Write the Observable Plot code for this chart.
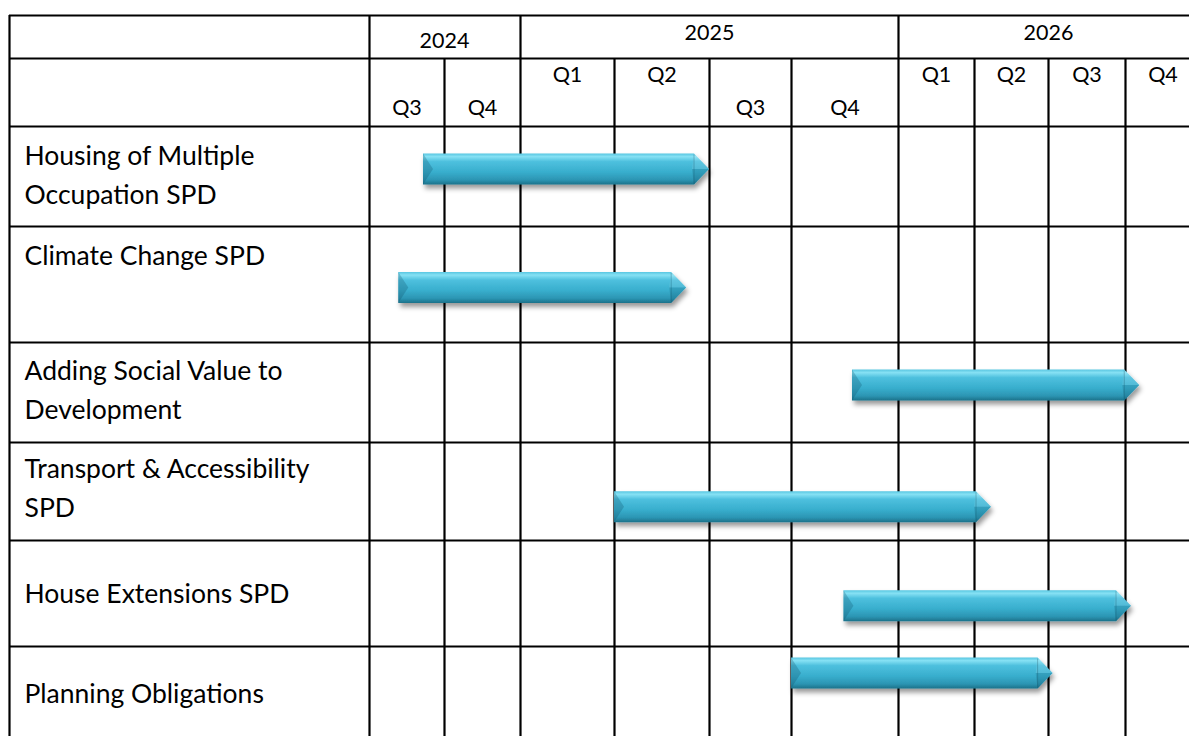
<!DOCTYPE html>
<html><head><meta charset="utf-8">
<script src="https://cdn.jsdelivr.net/npm/d3@7"></script>
<script src="https://cdn.jsdelivr.net/npm/@observablehq/plot@0.6"></script>
<style>
html,body{margin:0;padding:0;background:#fff;}
#chart svg{display:block;}
</style></head><body><div id="chart"></div>
<script>
// ---------- DATA ----------
const tasks = [
  "Housing of Multiple\nOccupation SPD",
  "Climate Change SPD",
  "Adding Social Value to\nDevelopment",
  "Transport & Accessibility\nSPD",
  "House Extensions SPD",
  "Planning Obligations"
];
const years = ["2024", "2025", "2026"];
const yearFirstQuarter = [0, 2, 6];   // first quarter column of each year
const yearEndQuarter = [2, 6, 10];    // column after the last quarter of each year
const quarters = ["Q3", "Q4", "Q1", "Q2", "Q3", "Q4", "Q1", "Q2", "Q3", "Q4"];
// bar start / end, in quarter columns counted from the start of Q3 2024
const barStart = [0.72, 0.39, 5.57, 3.0, 5.49, 5.0];
const barEnd   = [4.0, 3.76, 9.19, 7.23, 9.08, 8.06];
// where the bar sits inside its row (0 = top of row, 1 = bottom)
const barLane  = [0.43, 0.53, 0.43, 0.66, 0.62, 0.27];

// ---------- LAYOUT (table geometry, not data) ----------
const xEdges  = [-1, 0, 1, 2, 3, 4, 5, 6, 7, 8, 9, 10];
const xPixels = [9, 369, 444, 520, 614, 709, 791, 898, 974, 1048, 1125, 1200];
const yEdges  = [0, 1, 2, 3, 4, 5, 6, 7, 8];
const yPixels = [15, 58, 126, 226, 342, 442, 540, 646, 746];
const yearVPos = [0.59, 0.40, 0.40];
const quarterVPos = [0.725, 0.725, 0.24, 0.24, 0.725, 0.725, 0.24, 0.24, 0.24, 0.24];
const labelVPos = [0.105, 0.09, 0.095, 0.077, 0.325, 0.285];

const FONT = "Lato, 'Open Sans', sans-serif";

// vertical rules: label column left edge, then every quarter boundary
const vRules = [-1, ...d3.range(0, 11)].map(v => ({
  x: v,
  y1: (v === -1 || yearFirstQuarter.includes(v) || v === 10) ? 0 : 1
}));
const hRules = yEdges.slice(0, 8);

function arrowBars(index, scales) {
  const {x, y} = scales;
  const g = d3.create("svg:g");
  const defs = g.append("defs");
  const grad = defs.append("linearGradient").attr("id", "barGrad")
    .attr("x1", 0).attr("y1", 0).attr("x2", 0).attr("y2", 1);
  [[0, "#58c6e1"], [0.1, "#86e1f4"], [0.26, "#4ec0de"], [0.6, "#38aecd"], [0.85, "#2c95b3"], [1, "#1c728a"]]
    .forEach(([o, c]) => grad.append("stop").attr("offset", o).attr("stop-color", c));
  const f = defs.append("filter").attr("id", "barShadow")
    .attr("x", "-10%").attr("y", "-40%").attr("width", "125%").attr("height", "200%");
  f.append("feDropShadow").attr("dx", 2).attr("dy", 4).attr("stdDeviation", 2.5)
    .attr("flood-color", "#000").attr("flood-opacity", 0.4);
  const H = 31, L = 15, B = 10;
  tasks.forEach((t, i) => {
    const x0 = x(barStart[i]), x1 = x(barEnd[i]);
    const yc = y(i + 2 + barLane[i]);
    const top = yc - H / 2, bot = yc + H / 2;
    const bg = g.append("g");
    bg.append("path")
      .attr("d", `M${x0},${top}L${x1 - L},${top}L${x1},${yc}L${x1 - L},${bot}L${x0},${bot}Z`)
      .attr("fill", "url(#barGrad)").attr("filter", "url(#barShadow)");
    // left bevel facet
    bg.append("path")
      .attr("d", `M${x0},${top}L${x0 + B},${yc}L${x0},${bot}Z`)
      .attr("fill", "rgba(10,70,95,0.25)");
    // head bevel facets
    bg.append("path")
      .attr("d", `M${x1 - L},${top}L${x1},${yc}L${x1 - L - 2},${yc}Z`)
      .attr("fill", "rgba(255,255,255,0.10)");
    bg.append("path")
      .attr("d", `M${x1 - L - 2},${yc}L${x1},${yc}L${x1 - L},${bot}Z`)
      .attr("fill", "rgba(0,50,70,0.14)");
    bg.append("line")
      .attr("x1", x1 - L).attr("x2", x1 - L).attr("y1", top + 1).attr("y2", bot - 1)
      .attr("stroke", "rgba(20,90,110,0.35)").attr("stroke-width", 1);
  });
  return g.node();
}

const chart = Plot.plot({
  width: 1189,
  height: 736,
  margin: 0,
  x: {type: "linear", domain: xEdges, range: xPixels, axis: null},
  y: {type: "linear", domain: yEdges, range: yPixels, axis: null},
  style: {background: "#fff", fontFamily: FONT, color: "#000"},
  marks: [
    Plot.ruleY(hRules, {y: d => d, x1: -1, x2: 10, stroke: "#000", strokeWidth: 2.2}),
    Plot.ruleX(vRules, {x: "x", y1: "y1", y2: 8, stroke: "#000", strokeWidth: 2.2}),
    arrowBars,
    Plot.text(years, {
      x: (d, i) => (yearFirstQuarter[i] + yearEndQuarter[i]) / 2,
      y: (d, i) => yearVPos[i],
      text: d => d, fontSize: 21.5, fill: "#000", textAnchor: "middle", lineAnchor: "middle"
    }),
    Plot.text(quarters, {
      x: (d, i) => i + 0.5,
      y: (d, i) => 1 + quarterVPos[i],
      text: d => d, fontSize: 21.5, fill: "#000", textAnchor: "middle", lineAnchor: "middle"
    }),
    Plot.text(tasks, {
      x: -1, dx: 15,
      y: (d, i) => i + 2 + labelVPos[i],
      text: d => d, fontSize: 26.5, lineHeight: 1.47, fill: "#000",
      textAnchor: "start", lineAnchor: "top"
    })
  ]
});
document.getElementById("chart").appendChild(chart);
</script>
</body></html>
